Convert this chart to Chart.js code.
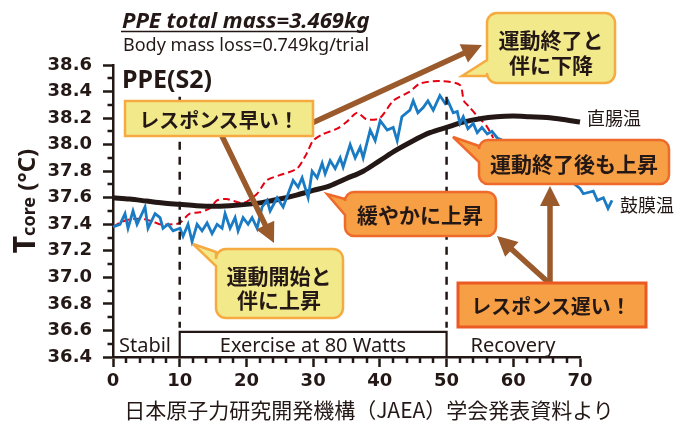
<!DOCTYPE html>
<html><head><meta charset="utf-8">
<script src="https://cdn.jsdelivr.net/npm/chart.js@4.4.1/dist/chart.umd.min.js"></script>
<style>
html,body{margin:0;padding:0;background:#fff;}
#wrap{position:relative;width:676px;height:421px;overflow:hidden;background:#fff;}
#c{position:absolute;left:0;top:0;}
#ov{position:absolute;left:0;top:0;}
</style></head><body>
<div id="wrap"><canvas id="c" width="676" height="421"></canvas>
<svg id="ov" width="676" height="421" xmlns="http://www.w3.org/2000/svg"></svg></div>
<script>
// ---- data (minutes, °C) ----
const tympanicTime = [0,1.05,1.8,2.25,3.0,3.6,4.35,4.8,5.25,6.3,7.05,7.5,8.25,9.0,10.05,10.5,11.25,11.85,12.6,13.35,14.1,14.85,15.6,16.35,16.8,17.55,18.3,18.75,19.5,20.25,20.85,21.6,22.35,23.1,23.55,24.6,25.5,26.25,27.0,27.75,28.35,29.25,29.85,30.6,31.35,31.8,32.55,33.3,34.05,34.5,35.55,36.3,37.05,37.5,38.55,39.3,40.05,41.1,42.0,42.6,43.3,44.5,45.0,45.7,46.5,47.2,48.0,49.0,49.8,50.2,51.0,51.6,52.0,52.5,53.2,54.0,54.6,55.3,56.1,56.8,57.6,58.5,59.5,60.5,61.5,62.5,63.5,64.5,65.5,66.5,67.5,69.0,70.0,70.5,72.0,72.6,73.5,74.2,74.8];
const tympanicTemp = [37.38,37.40,37.48,37.37,37.50,37.40,37.48,37.53,37.37,37.48,37.45,37.37,37.40,37.35,37.37,37.31,37.40,37.27,37.40,37.35,37.41,37.33,37.40,37.37,37.48,37.37,37.45,37.35,37.45,37.40,37.45,37.37,37.53,37.58,37.50,37.60,37.53,37.63,37.73,37.68,37.75,37.60,37.80,37.75,37.86,37.78,37.88,37.82,37.90,37.83,38.00,37.90,37.98,37.90,38.11,38.03,38.18,38.11,38.13,38.03,38.21,38.26,38.33,38.24,38.28,38.33,38.26,38.37,38.31,38.33,38.24,38.25,38.16,38.21,38.12,38.16,38.09,38.13,38.08,38.10,38.05,38.03,37.98,38.00,37.92,37.90,37.84,37.86,37.78,37.80,37.72,37.71,37.67,37.63,37.65,37.58,37.60,37.52,37.58];
const rectalTime = [0,2.5,5,7.5,10,12.5,15,17.5,20,22.5,25,27.5,30,32.5,35,37.5,40,42.5,45,47.5,50,52.5,55,57.5,60,62.5,65,67.5,70];
const rectalTemp = [37.60,37.59,37.575,37.56,37.55,37.54,37.535,37.54,37.55,37.565,37.59,37.62,37.655,37.69,37.745,37.80,37.88,37.96,38.03,38.09,38.13,38.17,38.195,38.21,38.215,38.21,38.205,38.19,38.17];
const dashedTime = [0,1,2,3,4.5,6,7,9,10,11.5,13,14.5,15.6,17,19.5,21.6,23,25,27.6,29,30,31.5,33.6,35,36.6,38,40,42,44.5,46,49,52,52.6,53.5,54.5,56,57];
const dashedTemp = [37.38,37.41,37.43,37.44,37.44,37.42,37.40,37.40,37.41,37.48,37.49,37.52,37.58,37.59,37.56,37.63,37.73,37.77,37.82,37.93,38.03,38.08,38.12,38.17,38.24,38.19,38.20,38.33,38.40,38.46,38.48,38.45,38.33,38.28,38.22,38.14,38.05];
const xTickLabels = ['0','10','20','30','40','50','60','70'];
const yTickLabels = ['36.4','36.6','36.8','37.0','37.2','37.4','37.6','37.8','38.0','38.2','38.4','38.6'];
const phaseBounds = [0, 10, 50, 70];
const phaseNames = ['Stabil','Exercise at 80 Watts','Recovery'];

const INK = '#231815';
const toPts = (xs, ys) => xs.map((x, i) => ({x, y: ys[i]}));

const overlayPlugin = {
  id: 'overlay',
  afterDatasetsDraw(chart) {
    const {ctx} = chart; const x = chart.scales.x, y = chart.scales.y;
    ctx.save();
    ctx.strokeStyle = INK; ctx.lineWidth = 2.5; ctx.lineCap = 'butt';
    for (let k = 1; k < 22; k += 2) {
      const py = Math.round(y.getPixelForValue(36.4 + k * 0.1));
      ctx.beginPath(); ctx.moveTo(x.left - 5.5, py); ctx.lineTo(x.left, py); ctx.stroke();
    }
    for (let v = 2; v < 70; v += 2) {
      if (v % 10 === 0) continue;
      const px = Math.round(x.getPixelForValue(v));
      ctx.beginPath(); ctx.moveTo(px, y.bottom); ctx.lineTo(px, y.bottom + 6); ctx.stroke();
    }
    const boxTop = y.getPixelForValue(36.59);
    const x10 = x.getPixelForValue(phaseBounds[1]), x50 = x.getPixelForValue(phaseBounds[2]);
    ctx.lineWidth = 2.2;
    ctx.beginPath(); ctx.moveTo(x10, y.bottom); ctx.lineTo(x10, boxTop); ctx.lineTo(x50, boxTop); ctx.lineTo(x50, y.bottom); ctx.stroke();
    ctx.setLineDash([8, 7]); ctx.lineWidth = 2.5;
    const dTop = y.getPixelForValue(38.36);
    [x10, x50].forEach(px => { ctx.beginPath(); ctx.moveTo(px, dTop); ctx.lineTo(px, boxTop - 4); ctx.stroke(); });
    ctx.restore();
  }
};

const chart = new Chart(document.getElementById('c'), {
  type: 'line',
  data: {
    datasets: [
      {label: '鼓膜温', data: toPts(tympanicTime, tympanicTemp), borderColor: '#1a7bc4', borderWidth: 2.8, tension: 0, clip: false, pointRadius: 0},
      {label: '直腸温', data: toPts(rectalTime, rectalTemp), borderColor: INK, borderWidth: 5, cubicInterpolationMode: 'monotone', pointRadius: 0},
      {label: 'PPE', data: toPts(dashedTime, dashedTemp), borderColor: '#e60012', borderWidth: 2, borderDash: [7, 4], tension: 0.25, pointRadius: 0}
    ]
  },
  options: {
    responsive: false, animation: false, devicePixelRatio: 1,
    layout: {padding: {left: 0, right: 96, top: 65, bottom: 0}},
    plugins: {legend: {display: false}, tooltip: {enabled: false}, title: {display: false}},
    scales: {
      x: {
        type: 'linear',
        afterDataLimits(s) { s.min = 0; s.max = 70; },
        grid: {display: true, drawOnChartArea: false, drawTicks: true, tickLength: 10, tickWidth: 2.5, tickColor: INK},
        border: {display: true, color: INK, width: 2.5},
        ticks: {stepSize: 10, padding: 4, color: INK, maxRotation: 0, font: {family: 'DejaVu Sans', weight: 'bold', size: 18},
          callback: (v) => xTickLabels[Math.round(v / 10)]},
        afterFit(s) { s.height = 64; }
      },
      y: {
        type: 'linear', min: 36.4, max: 38.6,
        grid: {display: true, drawOnChartArea: false, drawTicks: true, tickLength: 10, tickWidth: 2.5, tickColor: INK},
        border: {display: true, color: INK, width: 2.5},
        ticks: {stepSize: 0.2, padding: 11, color: INK, font: {family: 'DejaVu Sans', weight: 'bold', size: 18},
          callback: (v) => yTickLabels[Math.round((v - 36.4) / 0.2)]},
        afterFit(s) { s.width = 113; }
      }
    }
  },
  plugins: [overlayPlugin]
});

// ---- annotation overlay (SVG) ----
const svg = document.getElementById('ov');
const NS = 'http://www.w3.org/2000/svg';
function el(tag, attrs, text) {
  const e = document.createElementNS(NS, tag);
  for (const k in attrs) e.setAttribute(k, attrs[k]);
  if (text !== undefined) e.textContent = text;
  svg.appendChild(e); return e;
}
function calloutPath(x0, y0, x1, y1, r, t) {
  let d = `M${x0 + r},${y0} H${x1 - r} A${r},${r} 0 0 1 ${x1},${y0 + r} V${y1 - r} A${r},${r} 0 0 1 ${x1 - r},${y1} H${x0 + r} A${r},${r} 0 0 1 ${x0},${y1 - r}`;
  if (t) d += ` V${t.b} L${t.tx},${t.ty} L${x0},${t.a}`;
  d += ` V${y0 + r} A${r},${r} 0 0 1 ${x0 + r},${y0} Z`;
  return d;
}
function arrow(sx, sy, tx, ty) {
  const w = 5.5, L = 20, H = 20;
  const len = Math.hypot(tx - sx, ty - sy), ux = (tx - sx) / len, uy = (ty - sy) / len, nx = -uy, ny = ux;
  const bx = tx - ux * L, by = ty - uy * L;
  const p = [[sx + nx * w / 2, sy + ny * w / 2], [bx + nx * w / 2, by + ny * w / 2], [bx + nx * H / 2, by + ny * H / 2], [tx, ty],
    [bx - nx * H / 2, by - ny * H / 2], [bx - nx * w / 2, by - ny * w / 2], [sx - nx * w / 2, sy - ny * w / 2]];
  el('polygon', {points: p.map(q => q.join(',')).join(' '), fill: '#9b5a2c'});
}
const YEL = '#f2e98a', YEL_B = '#f6aa42', ORG = '#f69f45', ORG_B = '#ee6a2b';
const JP = "'Noto Sans CJK JP', sans-serif";

// titles
el('text', {x: 122, y: 28, 'font-family': "'Noto Sans', sans-serif", 'font-size': 22, 'font-weight': 700, 'font-style': 'italic', fill: INK}, 'PPE total mass=3.469kg');
el('line', {x1: 121, y1: 31.5, x2: 363, y2: 31.5, stroke: INK, 'stroke-width': 1.6});
el('text', {x: 123, y: 51, 'font-family': "'Noto Sans', sans-serif", 'font-size': 18, fill: INK}, 'Body mass loss=0.749kg/trial');
el('text', {x: 122, y: 88, 'font-family': "'Noto Sans', sans-serif", 'font-size': 25, 'font-weight': 700, fill: INK}, 'PPE(S2)');

// y title
const yt = el('text', {x: 0, y: 0, transform: 'translate(35,201) rotate(-90)', 'text-anchor': 'middle', 'font-family': "'Noto Sans', sans-serif", fill: INK, 'font-weight': 700});
[['T', 30], ['core', 18], [' (°C)', 24]].forEach(([s, f]) => { const t = document.createElementNS(NS, 'tspan'); t.setAttribute('font-size', f); t.textContent = s; yt.appendChild(t); });

// x title
el('text', {x: 369, y: 418, 'text-anchor': 'middle', 'font-family': JP, 'font-size': 21, fill: INK}, '日本原子力研究開発機構（JAEA）学会発表資料より');

// phase labels
[[145, phaseNames[0]], [313, phaseNames[1]], [513, phaseNames[2]]].forEach(([cx, s]) =>
  el('text', {x: cx, y: 352, 'text-anchor': 'middle', 'font-family': "'Noto Sans', sans-serif", 'font-size': 20, fill: INK}, s));

// series labels
el('text', {x: 587, y: 125, 'font-family': JP, 'font-size': 18, fill: INK}, '直腸温');
el('text', {x: 620, y: 212, 'font-family': JP, 'font-size': 18, fill: INK}, '鼓膜温');

// arrows
arrow(312, 123, 482, 45);
arrow(221, 134, 274, 243);
arrow(550, 284, 550, 186);
arrow(549, 283, 497, 236);

// callouts
el('rect', {x: 125, y: 101, width: 188, height: 35, fill: YEL, stroke: YEL_B, 'stroke-width': 2.5});
el('path', {d: calloutPath(487, 13, 615, 83, 10, {a: 60, b: 76, tx: 462, ty: 76}), fill: YEL, stroke: YEL_B, 'stroke-width': 2.5});
el('path', {d: calloutPath(216, 249, 343, 318, 10, {a: 252, b: 266, tx: 193, ty: 244}), fill: YEL, stroke: YEL_B, 'stroke-width': 2.5});
el('path', {d: calloutPath(345, 192, 496, 236, 9, {a: 199, b: 215, tx: 327, ty: 194}), fill: ORG, stroke: ORG_B, 'stroke-width': 2.5});
el('path', {d: calloutPath(479, 140, 669, 184, 9, {a: 146, b: 162, tx: 453, ty: 137}), fill: ORG, stroke: ORG_B, 'stroke-width': 2.5});
el('rect', {x: 458, y: 283, width: 188, height: 44, fill: ORG, stroke: '#ec5a24', 'stroke-width': 3});

const cT = (x, y, s, f) => el('text', {x, y, 'text-anchor': 'middle', 'dominant-baseline': 'central', 'font-family': JP, 'font-size': f, 'font-weight': 700, fill: INK}, s);
cT(219, 119, 'レスポンス早い！', 20);
cT(551, 39, '運動終了と', 21);
cT(551, 64, '伴に下降', 21);
cT(279, 275, '運動開始と', 21);
cT(279, 299, '伴に上昇', 21);
cT(420, 214, '緩やかに上昇', 21);
cT(574, 163, '運動終了後も上昇', 21);
cT(551, 305, 'レスポンス遅い！', 20);
</script>
</body></html>
